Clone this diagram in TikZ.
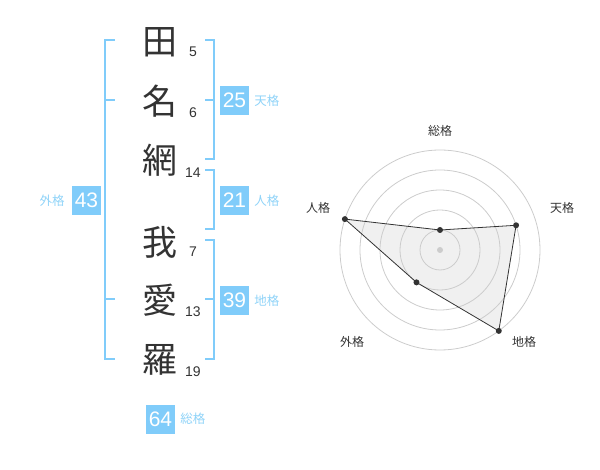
\documentclass[tikz,border=0pt]{standalone}
\usepackage{fontspec}
\setmainfont{Liberation Sans}
\newfontfamily\jpfont{Noto Sans CJK JP}
\usetikzlibrary{positioning,calc}
\definecolor{kakublue}{HTML}{80CCFA}
\definecolor{kakulabel}{HTML}{8FD3F8}
\definecolor{ink}{HTML}{333333}
\definecolor{ring}{HTML}{CCCCCC}
\tikzset{
  kanji/.style={font=\jpfont\fontsize{35}{35}\selectfont, text=ink, inner sep=0pt},
  strokes/.style={font=\fontsize{14}{14}\selectfont, text=ink, inner sep=0pt},
  kakubox/.style={fill=kakublue, text=white, minimum size=29pt, inner sep=0pt, font=\fontsize{21}{21}\selectfont},
  kakuname/.style={font=\jpfont\fontsize{12.5}{12.5}\selectfont, text=kakulabel, inner sep=0pt},
  bracket/.style={draw=kakublue, line width=2pt},
  axislabel/.style={font=\jpfont\fontsize{12}{12}\selectfont, text=ink, inner sep=0pt},
  dot/.style={fill=ink, draw=none},
}
\begin{document}
\begin{tikzpicture}[x=1pt,y=-1pt]
            \useasboundingbox (0,0) rectangle (600,470);
            % name
            \node[kanji] (k1) at (160,42) {田};
            \node[kanji] (k2) at (160,101) {名};
            \node[kanji] (k3) at (160,160) {網};
            \node[kanji] (k4) at (160,242) {我};
            \node[kanji] (k5) at (160,300) {愛};
            \node[kanji] (k6) at (160,360) {羅};
            \node[strokes] (n1) at (193,52) {5};
            \node[strokes] (n2) at (193,113) {6};
            \node[strokes] (n3) at (193,173) {14};
            \node[strokes] (n4) at (193,252) {7};
            \node[strokes] (n5) at (193,312) {13};
            \node[strokes] (n6) at (193,372) {19};
            % brackets
            \draw[bracket] (115,40) -- (105,40) -- (105,359) -- (115,359);
            \draw[bracket] (105,100) -- (115,100);
            \draw[bracket] (105,299) -- (115,299);
            \draw[bracket] (205,40) -- (214,40) -- (214,159) -- (205,159);
            \draw[bracket] (214,100) -- (205,100);
            \draw[bracket] (205,170) -- (214,170) -- (214,229) -- (205,229);
            \draw[bracket] (205,240) -- (214,240) -- (214,359) -- (205,359);
            \draw[bracket] (214,299) -- (205,299);
            % kaku boxes
            \node[kakubox] (ten) at (234.5,100.5) {25};
            \node[kakuname,right=5pt of ten] {天格};
            \node[kakubox] (jin) at (234.5,200.5) {21};
            \node[kakuname,right=5pt of jin] {人格};
            \node[kakubox] (chi) at (234.5,300.5) {39};
            \node[kakuname,right=5pt of chi] {地格};
            \node[kakubox] (gai) at (86.5,200.5) {43};
            \node[kakuname,left=7pt of gai] {外格};
            \node[kakubox] (sou) at (160.5,419) {64};
            \node[kakuname,right=5pt of sou] {総格};
            % radar
            \coordinate (c) at (440,250);
            \coordinate (p1) at ($(c)+(-90:20)$);
            \coordinate (p2) at ($(c)+(-18:80)$);
            \coordinate (p3) at ($(c)+(54:100)$);
            \coordinate (p4) at ($(c)+(126:40)$);
            \coordinate (p5) at ($(c)+(198:100)$);
            \fill[black!6] (p1) -- (p2) -- (p3) -- (p4) -- (p5) -- cycle;
            \foreach \r in {20,40,60,80,100}
                \draw[ring, line width=.8pt] (c) circle (\r);
            \draw[ink, line width=.8pt] (p1) -- (p2) -- (p3) -- (p4) -- (p5) -- cycle;
            \foreach \p in {p1,p2,p3,p4,p5}
                \fill[dot] (\p) circle (3);
            \fill[ring] (c) circle (3);
            \node[axislabel] (a1) at (440,131) {総格};
            \node[axislabel] (a2) at (562,208) {天格};
            \node[axislabel] (a3) at (524,342) {地格};
            \node[axislabel] (a4) at (352,342) {外格};
            \node[axislabel] (a5) at (318,208) {人格};
\end{tikzpicture}
\end{document}
